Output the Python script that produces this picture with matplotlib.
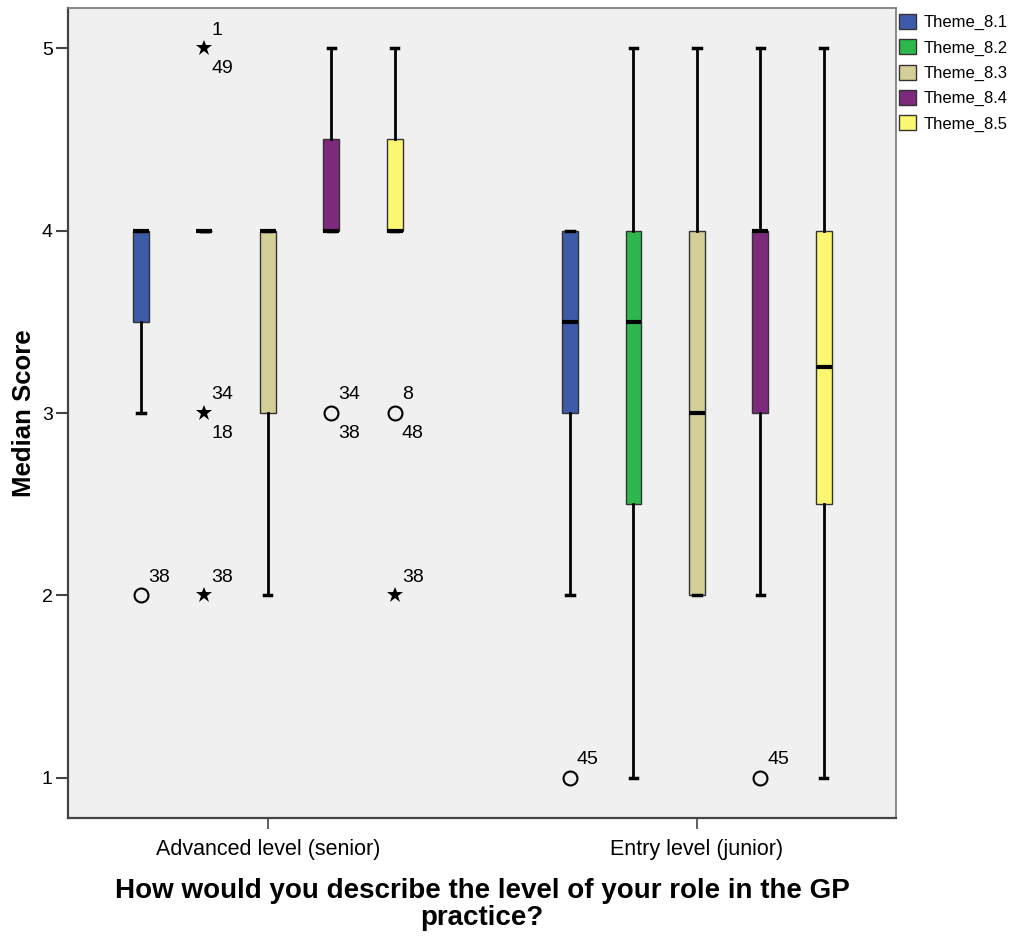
import matplotlib
matplotlib.use("Agg")
import matplotlib.pyplot as plt
from matplotlib.patches import Patch

plt.rcParams['font.family'] = ['Liberation Sans', 'DejaVu Sans']

# Role levels and themes
groups = ['Advanced level (senior)', 'Entry level (junior)']
themes = ['Theme_8.1', 'Theme_8.2', 'Theme_8.3', 'Theme_8.4', 'Theme_8.5']
colors = ['#3E5BAA', '#2EB84C', '#D4CF96', '#7D2A7D', '#FCF771']

# Box statistics per group, one entry per theme: (whislo, q1, med, q3, whishi)
senior_stats = [
    (3.0, 3.5, 4.0, 4.0, 4.0),
    (4.0, 4.0, 4.0, 4.0, 4.0),
    (2.0, 3.0, 4.0, 4.0, 4.0),
    (4.0, 4.0, 4.0, 4.5, 5.0),
    (4.0, 4.0, 4.0, 4.5, 5.0),
]
junior_stats = [
    (2.0, 3.0, 3.5, 4.0, 4.0),
    (1.0, 2.5, 3.5, 4.0, 5.0),
    (2.0, 2.0, 3.0, 4.0, 5.0),
    (2.0, 3.0, 4.0, 4.0, 5.0),
    (1.0, 2.5, 3.25, 4.0, 5.0),
]

# Outliers: (group index, theme index, value, marker, case labels)
outliers = [
    (0, 0, 2, 'o', ['38']),
    (0, 1, 5, '*', ['1', '49']),
    (0, 1, 3, '*', ['34', '18']),
    (0, 1, 2, '*', ['38']),
    (0, 3, 3, 'o', ['34', '38']),
    (0, 4, 3, 'o', ['8', '48']),
    (0, 4, 2, '*', ['38']),
    (1, 0, 1, 'o', ['45']),
    (1, 3, 1, 'o', ['45']),
]

fig = plt.figure(figsize=(10.29, 9.38), dpi=100)
ax = fig.add_axes([68 / 1029, 120 / 938, 828 / 1029, 810 / 938])
ax.set_facecolor('#F0F0F0')

step = 0.148
width = 0.037


def xpos(g, t):
    return g + (t - 2) * step


for g, stats in enumerate([senior_stats, junior_stats]):
    for t, (lo, q1, med, q3, hi) in enumerate(stats):
        st = dict(whislo=lo, q1=q1, med=med, q3=q3, whishi=hi, fliers=[])
        art = ax.bxp([st], positions=[xpos(g, t)], widths=width,
                     capwidths=width * 0.45, patch_artist=True,
                     showfliers=False, manage_ticks=False,
                     boxprops=dict(facecolor=colors[t], edgecolor='#333333',
                                   linewidth=1.0),
                     medianprops=dict(color='black', linewidth=3,
                                      solid_capstyle='butt'),
                     whiskerprops=dict(color='black', linewidth=2),
                     capprops=dict(color='black', linewidth=2.5))
        for ln in art['medians']:
            ln.set_zorder(4)

for g, t, v, m, labs in outliers:
    x = xpos(g, t)
    if m == 'o':
        ax.plot(x, v, 'o', ms=10, mfc='none', mec='black', mew=1.5, zorder=5)
    else:
        ax.plot(x, v, '*', ms=12, color='black', mew=0, zorder=5)
    ax.annotate(labs[0], (x, v), xytext=(5, 13), textcoords='offset points',
                fontsize=14, ha='left', va='center')
    if len(labs) > 1:
        ax.annotate(labs[1], (x, v), xytext=(5, -15),
                    textcoords='offset points',
                    fontsize=14, ha='left', va='center')

ax.set_xlim(-0.466, 1.464)
ax.set_ylim(0.78, 5.22)
ax.set_xticks([0, 1])
ax.set_xticklabels(groups, fontsize=15.5)
ax.set_yticks([1, 2, 3, 4, 5])
ax.set_yticklabels(['1', '2', '3', '4', '5'], fontsize=14)
ax.tick_params(axis='y', length=9, width=1.5, color='#444444', pad=2)
ax.tick_params(axis='x', length=8, width=1.2, color='#444444', pad=7)

for side in ['left', 'bottom']:
    ax.spines[side].set_color('#444444')
    ax.spines[side].set_linewidth(1.6)
for side in ['top', 'right']:
    ax.spines[side].set_color('#777777')
    ax.spines[side].set_linewidth(1.2)

ax.set_ylabel('Median Score', fontsize=18.5, fontweight='bold', labelpad=4)
ax.set_xlabel('How would you describe the level of your role in the GP\npractice?',
              fontsize=20, fontweight='bold', labelpad=13, linespacing=1.05)

handles = [Patch(facecolor=c, edgecolor='#333333', linewidth=1.0) for c in colors]
fig.legend(handles, themes, loc='upper left',
           bbox_to_anchor=(899 / 1029, 1 - 14 / 938), frameon=False,
           fontsize=12, handlelength=1.0, handleheight=1.0,
           handletextpad=0.45, labelspacing=0.54, borderpad=0,
           borderaxespad=0)

fig.savefig('out.png', dpi=100)
